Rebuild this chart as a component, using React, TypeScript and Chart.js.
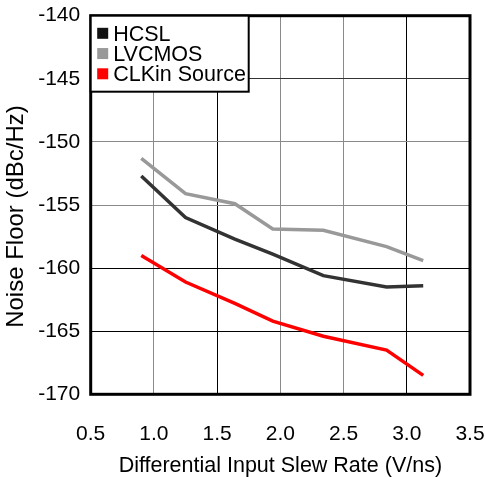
import React, { useEffect, useRef } from "react";
import { Chart, registerables } from "chart.js";

Chart.register(...registerables);

const slewRates = [0.9, 1.25, 1.64, 1.94, 2.34, 2.84, 3.13];
const hcsl = [-152.7, -156.0, -157.7, -158.9, -160.6, -161.5, -161.4];
const lvcmos = [-151.3, -154.1, -154.9, -156.9, -157.0, -158.3, -159.4];
const clkin = [-159.0, -161.1, -162.8, -164.2, -165.4, -166.5, -168.5];

const seriesNames = ["HCSL", "LVCMOS", "CLKin Source"];
const seriesColors = ["#333333", "#999999", "#ff0000"];
const legendColors = ["#111111", "#999999", "#ff0000"];

const xTitle = "Differential Input Slew Rate (V/ns)";
const yTitle = "Noise Floor (dBc/Hz)";

const FONT = "'Liberation Sans', Arial, sans-serif";

const toPoints = (ys: number[]) => slewRates.map((x, i) => ({ x, y: ys[i] }));

const xGridColor = (v: number) => {
  if (Math.abs(v - 1.5) < 1e-6 || Math.abs(v - 3.0) < 1e-6) return "#000000";
  return "#8a8a8a";
};
const yGridColor = (v: number) => {
  if (v === -145) return "#333333";
  if (v === -160 || v === -165) return "#000000";
  return "#8a8a8a";
};

const framePlugin = {
  id: "frameAndLegend",
  afterDraw(chart: any) {
    const { ctx, chartArea } = chart;
    const { left, top, right, bottom } = chartArea;
    ctx.save();
    // frame
    ctx.strokeStyle = "#000";
    ctx.lineWidth = 3;
    ctx.strokeRect(left, top, right - left, bottom - top);

    // legend box
    const bw = 158, bh = 76;
    ctx.fillStyle = "#fff";
    ctx.fillRect(left, top, bw, bh);
    ctx.lineWidth = 2;
    ctx.strokeStyle = "#000";
    ctx.strokeRect(left, top, bw, bh);
    ctx.font = `21.5px ${FONT}`;
    ctx.textBaseline = "alphabetic";
    ctx.textAlign = "left";
    chart.data.datasets.forEach((ds: any, i: number) => {
      const capCenter = top + 17.6 + i * 20.25;
      ctx.fillStyle = legendColors[i];
      ctx.fillRect(left + 6.5, capCenter - 5.5, 11, 11);
      ctx.fillStyle = "#000";
      ctx.fillText(ds.label, left + 22.5, capCenter + 7.5);
    });

    // y title
    ctx.save();
    ctx.translate(16, (top + bottom) / 2 + 11.5);
    ctx.rotate(-Math.PI / 2);
    ctx.font = `24px ${FONT}`;
    ctx.textAlign = "center";
    ctx.textBaseline = "middle";
    ctx.fillStyle = "#000";
    ctx.fillText(yTitle, 0, 0);
    ctx.restore();
    ctx.restore();
  },
};

export default function App() {
  const ref = useRef<HTMLCanvasElement>(null);
  useEffect(() => {
    document.body.style.margin = "0";
    const canvas = ref.current!;
    const data = [hcsl, lvcmos, clkin];
    const chart = new Chart(canvas, {
      type: "line",
      data: {
        datasets: data.map((ys, i) => ({
          label: seriesNames[i],
          data: toPoints(ys),
          borderColor: seriesColors[i],
          backgroundColor: seriesColors[i],
          borderWidth: 3.5,
          pointRadius: 0,
          tension: 0,
          fill: false,
        })),
      },
      options: {
        responsive: false,
        animation: false,
        layout: { padding: { top: 15.7, right: 15, bottom: 0, left: 0 } },
        plugins: {
          legend: { display: false },
          tooltip: { enabled: false },
        },
        scales: {
          x: {
            type: "linear",
            min: 0.5,
            max: 3.5,
            border: { display: false },
            grid: {
              drawTicks: false,
              lineWidth: 1,
              color: (c: any) => xGridColor(c.tick.value),
            },
            ticks: {
              stepSize: 0.5,
              padding: 27,
              color: "#000",
              font: { family: FONT, size: 21 },
              callback: (v: any) => Number(v).toFixed(1),
            },
            title: {
              display: true,
              text: xTitle,
              color: "#000",
              font: { family: FONT, size: 21.5, lineHeight: 1 },
              padding: { top: 0, bottom: 0 },
            },
            afterFit: (s: any) => {
              s.height = 82.7;
              s.paddingLeft = 0;
              s.paddingRight = 0;
            },
          },
          y: {
            type: "linear",
            min: -170,
            max: -140,
            border: { display: false },
            grid: {
              drawTicks: false,
              lineWidth: 1,
              color: (c: any) => yGridColor(c.tick.value),
            },
            ticks: {
              stepSize: 5,
              padding: 10.5,
              color: "#000",
              font: { family: FONT, size: 21 },
            },
            afterFit: (s: any) => {
              s.width = 90.7;
              s.paddingTop = 0;
              s.paddingBottom = 0;
            },
          },
        },
      },
      plugins: [framePlugin],
    });
    return () => chart.destroy();
  }, []);
  return <canvas ref={ref} width={485} height={477} style={{ display: "block", width: 485, height: 477 }} />;
}
